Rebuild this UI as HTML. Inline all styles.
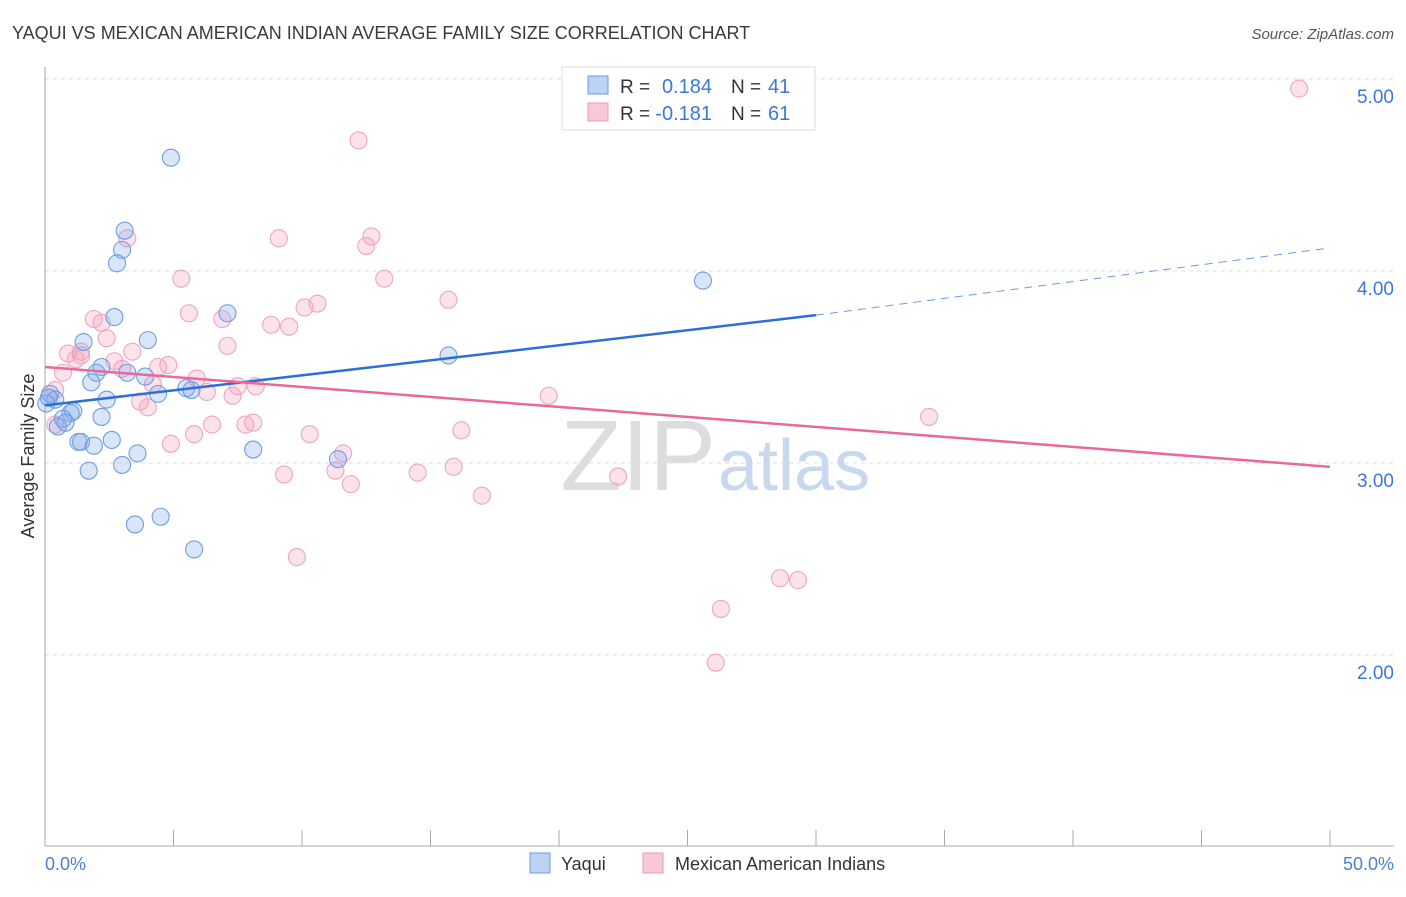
<!DOCTYPE html>
<html><head><meta charset="utf-8"><style>
body{margin:0;background:#fff;font-family:"Liberation Sans",sans-serif}
svg text{font-family:"Liberation Sans",sans-serif}
</style></head><body>
<svg width="1406" height="892">
<text x="12" y="39" font-size="18" fill="#3a3a3a">YAQUI VS MEXICAN AMERICAN INDIAN AVERAGE FAMILY SIZE CORRELATION CHART</text>
<text x="1394" y="39" font-size="15" fill="#555" font-style="italic" text-anchor="end">Source: ZipAtlas.com</text>
<g id="grid"></g>
<text x="716" y="490" font-size="100" font-family="Liberation Serif" fill="#ddd" text-anchor="end">ZIP</text>
<text x="718" y="490" font-size="72" fill="#c8d8ee">atlas</text>
<line x1="45" y1="67" x2="45" y2="846" stroke="#aaa"/>
<line x1="45" y1="846" x2="1394" y2="846" stroke="#aaa"/>
<g id="marks"></g>
<text x="34" y="456" font-size="18" fill="#333" text-anchor="middle" transform="rotate(-90 34 456)">Average Family Size</text>
<text x="45" y="870" font-size="18" fill="#4a7fd4">0.0%</text>
<text x="1394" y="870" font-size="18" fill="#4a7fd4" text-anchor="end">50.0%</text>
<g>
<rect x="562" y="67" width="253" height="63" fill="#fff" stroke="#ddd"/>
<rect x="588" y="76" width="20" height="18" fill="#bcd3f5" stroke="#6c9ae0"/>
<rect x="588" y="103" width="20" height="18" fill="#f9c9d8" stroke="#ec9ab5"/>
<text x="620" y="93" font-size="19" fill="#333">R =</text>
<text x="712" y="93" font-size="20" fill="#3b78d8" text-anchor="end">0.184</text>
<text x="731" y="93" font-size="19" fill="#333">N =</text>
<text x="768" y="93" font-size="20" fill="#3b78d8">41</text>
<text x="620" y="120" font-size="19" fill="#333">R =</text>
<text x="712" y="120" font-size="20" fill="#3b78d8" text-anchor="end">-0.181</text>
<text x="731" y="120" font-size="19" fill="#333">N =</text>
<text x="768" y="120" font-size="20" fill="#3b78d8">61</text>
</g>
<g>
<rect x="530" y="853" width="20" height="20" fill="#bcd3f5" stroke="#6c9ae0"/>
<text x="561" y="870" font-size="18" fill="#333">Yaqui</text>
<rect x="643" y="853" width="20" height="20" fill="#f9c9d8" stroke="#ec9ab5"/>
<text x="675" y="870" font-size="18" fill="#333">Mexican American Indians</text>
</g>
</svg>
<script>
const yaquiX=[4.9,3.1,3.0,2.8,2.7,7.1,4.0,1.5,15.7,2.2,2.0,3.2,3.9,1.8,5.5,5.7,4.4,0.2,0.4,2.4,1.1,1.0,2.2,0.7,0.8,2.6,1.3,1.4,1.9,3.6,8.1,1.7,3.0,11.4,3.5,4.5,5.8,25.6,0.05,0.15,0.5];
const yaquiY=[4.59,4.21,4.11,4.04,3.76,3.78,3.64,3.63,3.56,3.50,3.47,3.47,3.45,3.42,3.39,3.38,3.36,3.36,3.33,3.33,3.27,3.26,3.24,3.23,3.21,3.12,3.11,3.11,3.09,3.05,3.07,2.96,2.99,3.02,2.68,2.72,2.55,3.95,3.31,3.34,3.19];
const mexX=[48.8,12.2,12.7,12.5,3.2,9.1,5.3,13.2,15.7,10.6,10.1,5.6,6.9,1.9,2.2,8.8,9.5,7.1,2.4,1.4,0.9,1.4,1.2,3.4,2.7,3.0,4.8,4.4,0.7,5.9,4.2,7.5,8.2,6.3,7.3,19.6,0.4,3.7,4.0,8.1,7.8,6.5,34.4,16.2,10.3,5.8,11.6,4.9,0.4,11.3,15.9,14.5,9.3,22.3,11.9,17.0,9.8,28.6,29.3,26.3,26.1];
const mexY=[4.95,4.68,4.18,4.13,4.17,4.17,3.96,3.96,3.85,3.83,3.81,3.78,3.75,3.75,3.73,3.72,3.71,3.61,3.65,3.58,3.57,3.56,3.54,3.58,3.53,3.49,3.51,3.50,3.47,3.44,3.41,3.40,3.40,3.37,3.35,3.35,3.38,3.32,3.29,3.21,3.20,3.20,3.24,3.17,3.15,3.15,3.05,3.10,3.20,2.96,2.98,2.95,2.94,2.93,2.89,2.83,2.51,2.40,2.39,2.24,1.96];
const yTicks=[2,3,4,5];
const blueLine=[[0,3.30],[30,3.77],[50,4.12]];
const pinkLine=[[0,3.50],[50,2.98]];
const sx=v=>45+v*25.7, sy=v=>79+(5-v)*192;
const NS='http://www.w3.org/2000/svg';
const grid=document.getElementById('grid'), marks=document.getElementById('marks');
function mk(tag,attrs,parent){const e=document.createElementNS(NS,tag);for(const k in attrs)e.setAttribute(k,attrs[k]);parent.appendChild(e);return e;}
yTicks.forEach(t=>{
 const l=mk('line',{x1:45,x2:1394,y1:sy(t),y2:sy(t),stroke:'#ddd','stroke-dasharray':'4,4'},grid);
 
 
 const tx=mk('text',{x:1394,y:sy(t)+24,'font-size':19,fill:'#3b78d8','text-anchor':'end'},grid);
 tx.textContent=t.toFixed(2);
 
 
});
for(let i=1;i<=10;i++){
 const l=mk('line',{x1:sx(i*5),x2:sx(i*5),y1:830,y2:846,stroke:'#aaa'},grid);
 
 
}
mexX.forEach((x,i)=>{
 const c=mk('circle',{cx:sx(x),cy:sy(mexY[i]),r:8.5,fill:'rgba(244,160,188,0.3)',stroke:'#efa5be','stroke-width':1.1},marks);
 
 
});
yaquiX.forEach((x,i)=>{
 const c=mk('circle',{cx:sx(x),cy:sy(yaquiY[i]),r:8.5,fill:'rgba(130,170,235,0.3)',stroke:'#6f9ddf','stroke-width':1.1},marks);
 
 
});
const b1=mk('line',{x1:sx(blueLine[0][0]),y1:sy(blueLine[0][1]),x2:sx(blueLine[1][0]),y2:sy(blueLine[1][1]),stroke:'#2d6fd6','stroke-width':2.5},marks);


const b2=mk('line',{x1:sx(blueLine[1][0]),y1:sy(blueLine[1][1]),x2:sx(blueLine[2][0]),y2:sy(blueLine[2][1]),stroke:'#6c9ae0','stroke-width':1,'stroke-dasharray':'8,6'},marks);


const p1=mk('line',{x1:sx(pinkLine[0][0]),y1:sy(pinkLine[0][1]),x2:sx(pinkLine[1][0]),y2:sy(pinkLine[1][1]),stroke:'#e8699a','stroke-width':2.5},marks);


</script>
</body></html>
